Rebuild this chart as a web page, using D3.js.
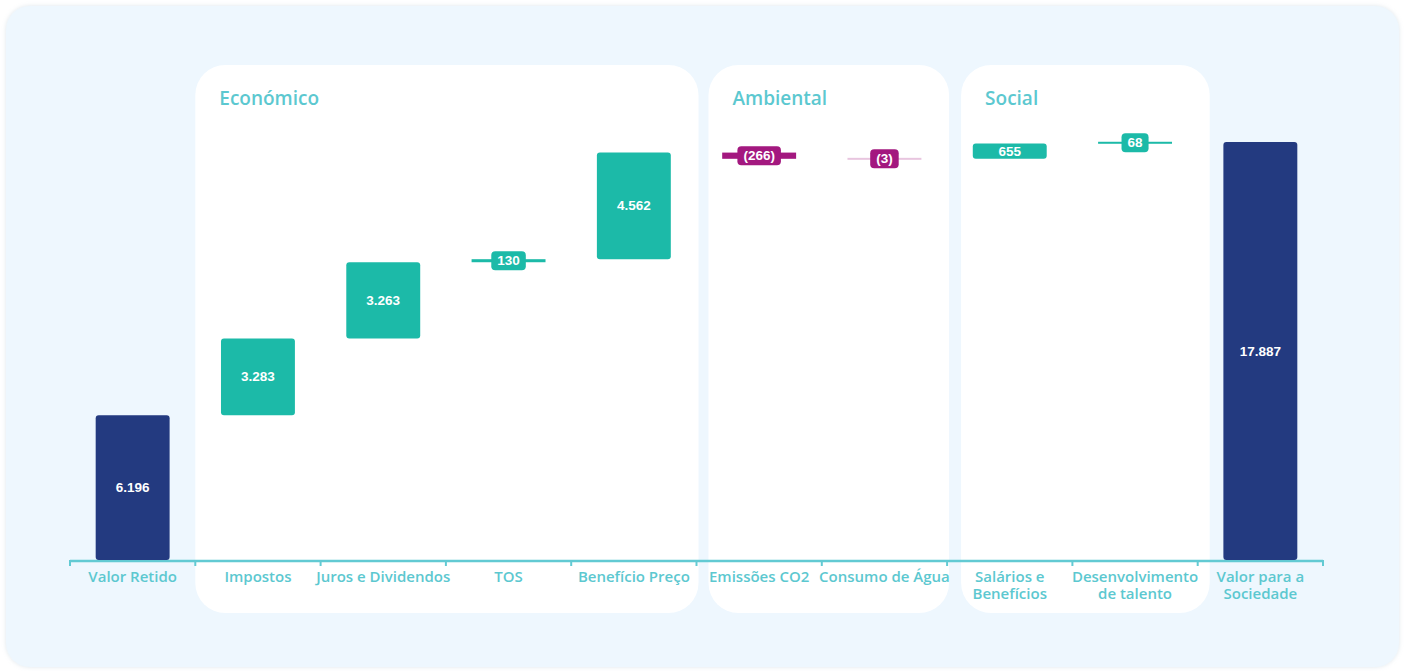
<!DOCTYPE html>
<html>
<head>
<meta charset="utf-8">
<script src="https://cdn.jsdelivr.net/npm/d3@7"></script>
<style>
  html, body { margin: 0; padding: 0; background: #ffffff; }
  svg { display: block; }
</style>
</head>
<body>
<svg id="chart" width="1405" height="671"></svg>
<script>
// --- Data ---
const categories = ['Valor Retido', 'Impostos', 'Juros e Dividendos', 'TOS', 'Benefício Preço',
  'Emissões CO2', 'Consumo de Água', 'Salários e Benefícios', 'Desenvolvimento de talento', 'Valor para a Sociedade'];
const labelLines = [['Valor Retido'], ['Impostos'], ['Juros e Dividendos'], ['TOS'], ['Benefício Preço'],
  ['Emissões CO2'], ['Consumo de Água'], ['Salários e', 'Benefícios'], ['Desenvolvimento', 'de talento'], ['Valor para a', 'Sociedade']];
const values = [6196, 3283, 3263, 130, 4562, -266, -3, 655, 68, 17887];
const kinds = ['total', 'delta', 'delta', 'delta', 'delta', 'delta', 'delta', 'delta', 'delta', 'total'];
const groupNames = ['Económico', 'Ambiental', 'Social'];
const groupFirst = ['Impostos', 'Emissões CO2', 'Salários e Benefícios'];
const groupLast = ['Benefício Preço', 'Consumo de Água', 'Desenvolvimento de talento'];

const NAVY = '#233a80', TEAL = '#1cbaa8', MAGENTA = '#a3187f';
const AXIS_C = '#62cad3';
const FONT = '"Open Sans", Lato, sans-serif';
const NUM_FONT = '"Liberation Sans", Arial, sans-serif';

// --- Waterfall positions ---
let run = 0;
const bars = categories.map((c, i) => {
  let y0, y1;
  if (kinds[i] === 'total') { y0 = 0; y1 = values[i]; run = values[i]; }
  else { y0 = run; y1 = run + values[i]; run = y1; }
  return { cat: c, lines: labelLines[i], v: values[i], kind: kinds[i], lo: Math.min(y0, y1), hi: Math.max(y0, y1) };
});

const svg = d3.select('#chart');
const W = 1405, H = 671;
const baseY = 560;

// Outer card
const defs = svg.append('defs');
const f = defs.append('filter').attr('id', 'sh').attr('x', -0.05).attr('y', -0.05).attr('width', 1.1).attr('height', 1.1);
f.append('feDropShadow').attr('dx', 0).attr('dy', 0).attr('stdDeviation', 2).attr('flood-color', '#9fb6c8').attr('flood-opacity', 0.35);
svg.append('rect')
  .attr('x', 6).attr('y', 6).attr('width', W - 12).attr('height', H - 10)
  .attr('rx', 24).attr('fill', '#eef7fe').attr('filter', 'url(#sh)');

// Scales
const x = d3.scaleBand().domain(categories).range([70, 1323]).paddingInner(0.41).paddingOuter(0.205);
const y = d3.scaleLinear().domain([0, 17887]).range([baseY, 142]);
const step = x.step();
const bandStart = c => x(c) - (step - x.bandwidth()) / 2;

// Group panels
const insets = [[0, 2], [12, 2], [14, 12]];
groupNames.forEach((g, i) => {
  const left = bandStart(groupFirst[i]) + insets[i][0];
  const right = bandStart(groupLast[i]) + step + insets[i][1];
  svg.append('rect')
    .attr('x', left).attr('y', 65).attr('width', right - left).attr('height', 548)
    .attr('rx', 30).attr('fill', '#ffffff');
  svg.append('text')
    .attr('x', left + 24).attr('y', 105)
    .attr('fill', '#5cc8d0').attr('font-family', FONT).attr('font-weight', 600).attr('font-size', 19)
    .text(g);
});

// Axis
svg.append('line')
  .attr('x1', x.range()[0]).attr('x2', x.range()[1]).attr('y1', baseY + 1).attr('y2', baseY + 1)
  .attr('stroke', AXIS_C).attr('stroke-width', 2.5);
const tickPos = d3.range(categories.length + 1).map(i => x.range()[0] + i * step);
svg.selectAll('.tk').data(tickPos).join('line')
  .attr('x1', d => d).attr('x2', d => d).attr('y1', baseY).attr('y2', baseY + 6)
  .attr('stroke', AXIS_C).attr('stroke-width', 2);

// Category labels, one text per line
const lineItems = bars.flatMap(d => d.lines.map((t, i) => ({ cat: d.cat, t, i })));
svg.selectAll('.xl').data(lineItems).join('text')
  .attr('x', d => x(d.cat) + x.bandwidth() / 2).attr('y', d => 582 + d.i * 16.5)
  .attr('text-anchor', 'middle').attr('fill', '#5cc8d0')
  .attr('font-family', FONT).attr('font-weight', 600).attr('font-size', 15)
  .text(d => d.t);

// Bars
const color = d => d.kind === 'total' ? NAVY : (d.v < 0 ? MAGENTA : TEAL);
const fmt = v => {
  const s = d3.format(',')(Math.abs(v)).replace(/,/g, '.');
  return v < 0 ? '(' + s + ')' : s;
};

const barG = svg.selectAll('.bar').data(bars).join('g');
barG.append('rect')
  .attr('x', d => x(d.cat))
  .attr('width', x.bandwidth())
  .attr('y', d => {
    const h = y(d.lo) - y(d.hi);
    return h < 2 ? (y(d.lo) + y(d.hi)) / 2 - 1 : y(d.hi);
  })
  .attr('height', d => Math.max(2, y(d.lo) - y(d.hi)))
  .attr('rx', d => (y(d.lo) - y(d.hi)) > 10 ? 3 : 0)
  .attr('fill', color)
  .attr('fill-opacity', d => (y(d.lo) - y(d.hi)) < 1 ? 0.25 : 1);

// Labels
barG.each(function (d) {
  const g = d3.select(this);
  const h = y(d.lo) - y(d.hi);
  const cx = x(d.cat) + x.bandwidth() / 2;
  const cy = (y(d.lo) + y(d.hi)) / 2;
  const t = g.append('text')
    .attr('x', cx).attr('y', cy + 1)
    .attr('text-anchor', 'middle').attr('dominant-baseline', 'middle')
    .attr('fill', '#ffffff').attr('font-family', NUM_FONT).attr('font-weight', 700).attr('font-size', 13.5)
    .text(fmt(d.v));
  if (h < 14) {
    const tw = t.node().getComputedTextLength();
    g.insert('rect', 'text')
      .attr('x', cx - tw / 2 - 6).attr('y', cy - 9.5)
      .attr('width', tw + 12).attr('height', 19)
      .attr('rx', 4).attr('fill', color(d));
  }
});
</script>
</body>
</html>
